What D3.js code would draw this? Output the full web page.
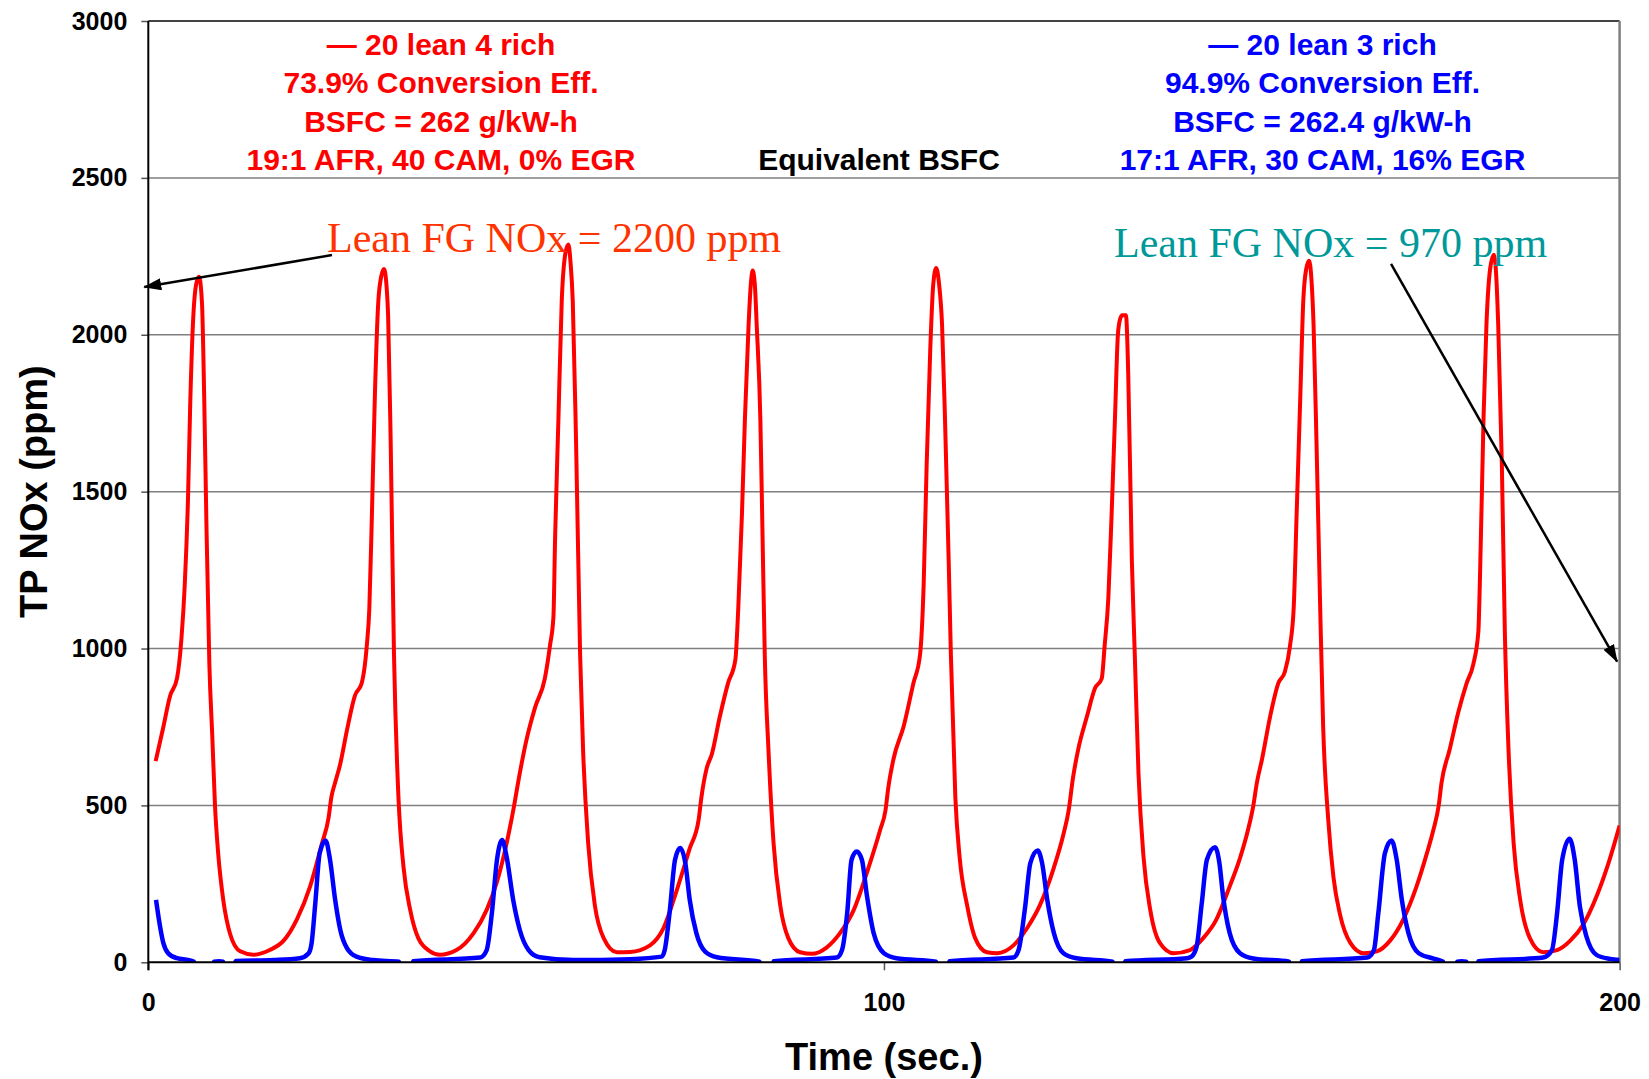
<!DOCTYPE html>
<html>
<head>
<meta charset="utf-8">
<script src="https://cdn.jsdelivr.net/npm/d3@7"></script>
<style>
  body { margin: 0; background: #fff; }
  svg { display: block; font-family: "Liberation Sans", Arial, sans-serif; }
</style>
</head>
<body>
<div class="chart"></div>
<script>
// [time (sec), TP NOx (ppm)]
var lean4rich = [
  [1.0, 641], [2.0, 745], [2.95, 848], [3.9, 905], [4.5, 1030], [4.95, 1200], [5.4, 1480],
  [5.7, 1780], [6.1, 2050], [6.5, 2160], [6.9, 2185], [7.3, 2100], [7.6, 1800], [7.9, 1400],
  [8.3, 950], [8.7, 720], [9.07, 498], [9.5, 347], [10.2, 197], [11.1, 92], [12.5, 35],
  [14.3, 24], [16.5, 39], [18.4, 69], [20.2, 137], [22.0, 242], [23.6, 378], [24.5, 460],
  [24.9, 528], [25.4, 573], [26.1, 633], [27.0, 739], [28.1, 851], [29.0, 889], [29.7, 1009],
  [30.05, 1130], [30.4, 1430], [30.8, 1806], [31.27, 2107], [31.7, 2190], [32.04, 2210],
  [32.4, 2150], [32.6, 2062], [32.95, 1656], [33.4, 979], [34.0, 528], [34.7, 302], [35.6, 167],
  [36.7, 77], [38.3, 35], [39.6, 24], [41.9, 39], [44.2, 92], [46.0, 167], [47.4, 257],
  [48.7, 378], [49.6, 483], [50.5, 603], [51.4, 708], [52.6, 814], [53.9, 904], [54.6, 1009],
  [55.07, 1100], [55.3, 1355], [55.75, 1731], [56.2, 2107], [56.7, 2260], [57.1, 2288],
  [57.4, 2230], [57.7, 2107], [58.15, 1656], [58.7, 979], [59.1, 678], [59.8, 378], [60.7, 182],
  [61.9, 77], [63.7, 32], [65.5, 33], [68.2, 54], [70.0, 107], [71.8, 227], [73.6, 363],
  [74.8, 453], [75.2, 528], [75.9, 618], [76.6, 663], [77.7, 784], [78.8, 889], [79.8, 964],
  [80.2, 1130], [80.7, 1430], [81.1, 1731], [81.6, 2032], [81.9, 2160], [82.15, 2205],
  [82.45, 2160], [82.7, 2032], [83.2, 1731], [83.5, 1355], [83.8, 979], [84.3, 678], [85.0, 378],
  [85.9, 182], [87.0, 77], [88.6, 32], [90.2, 27], [92.2, 47], [94.0, 92], [95.9, 167],
  [97.7, 287], [99.5, 423], [100.2, 483], [100.6, 558], [101.3, 648], [102.7, 754], [104.0, 889],
  [104.9, 979], [105.4, 1205], [105.8, 1581], [106.3, 1957], [106.7, 2160], [107.1, 2213],
  [107.5, 2160], [107.9, 2032], [108.3, 1731], [108.8, 1280], [109.1, 979], [109.7, 528],
  [110.3, 332], [111.3, 182], [112.4, 77], [114.0, 32], [115.4, 29], [117.6, 54], [119.4, 107],
  [121.2, 182], [123.1, 302], [124.4, 408], [125.1, 483], [125.7, 588], [126.4, 678], [127.6, 784],
  [128.7, 874], [129.6, 904], [130.0, 1009], [130.5, 1160], [130.95, 1430], [131.4, 1731],
  [131.8, 2000], [132.1, 2050], [132.4, 2062], [132.9, 2062], [133.2, 1882], [133.7, 1280],
  [134.1, 979], [134.6, 603], [135.3, 332], [136.2, 167], [137.5, 62], [139.4, 29], [141.6, 39],
  [143.4, 77], [145.2, 137], [147.0, 242], [148.4, 332], [149.5, 423], [150.2, 498], [150.7, 573],
  [151.4, 648], [152.5, 784], [153.6, 889], [154.5, 926], [155.2, 1009], [155.7, 1130],
  [156.1, 1430], [156.6, 1806], [157.0, 2107], [157.4, 2210], [157.8, 2236], [158.1, 2180],
  [158.4, 2032], [158.8, 1656], [159.3, 1130], [159.7, 754], [160.4, 453], [161.1, 272],
  [162.0, 152], [163.4, 62], [165.2, 29], [167.0, 35], [168.8, 69], [170.6, 137], [172.4, 242],
  [173.8, 347], [174.7, 423], [175.4, 498], [175.8, 573], [176.9, 678], [178.1, 799], [179.2, 889],
  [180.1, 949], [180.8, 1054], [181.0, 1205], [181.5, 1731], [181.9, 2032], [182.4, 2210],
  [182.9, 2255], [183.2, 2200], [183.5, 2032], [184.0, 1581], [184.4, 1054], [184.9, 678],
  [185.6, 378], [186.5, 197], [187.8, 77], [189.6, 32], [191.5, 39], [193.3, 69], [195.1, 122],
  [196.9, 212], [198.5, 317], [200.0, 436]
];

// dips below zero fall outside the plot area, which leaves the gaps in the blue trace
var lean3rich = [
  [1.05, 199], [1.6, 114], [2.05, 61], [2.7, 29], [3.9, 13], [5.5, 7], [6.2, 2], [6.5, -30],
  [8.6, -30], [8.9, 2], [9.6, 3], [10.2, 2], [10.5, -30], [11.6, -30], [11.9, 4], [17.0, 7],
  [20.6, 13], [21.8, 29], [22.2, 61], [22.7, 188], [23.3, 348], [24.1, 388], [24.7, 327],
  [25.4, 199], [26.1, 103], [27.0, 45], [28.3, 18], [30.6, 7], [34.1, 2], [34.4, -30],
  [35.7, -30], [36.0, 3], [45.1, 15], [46.0, 39], [46.7, 156], [47.4, 327], [48.1, 390],
  [48.7, 337], [49.6, 199], [50.5, 103], [51.7, 39], [53.2, 16], [57.8, 7], [65.5, 10],
  [69.8, 18], [70.2, 39], [70.9, 167], [71.6, 327], [72.3, 364], [73.0, 316], [73.6, 199],
  [74.5, 93], [75.7, 34], [77.3, 16], [83.1, 2], [83.4, -30], [84.7, -30], [85.0, 3],
  [93.6, 15], [94.3, 39], [95.0, 156], [95.6, 327], [96.3, 353], [97.0, 327], [97.7, 210],
  [98.6, 93], [100.0, 29], [101.7, 13], [107.1, 2], [107.4, -30], [108.6, -30], [108.9, 3],
  [117.6, 15], [118.3, 39], [119.2, 178], [119.9, 316], [120.9, 356], [121.5, 316], [122.2, 199],
  [123.1, 93], [124.4, 29], [126.2, 13], [131.1, 2], [131.4, -30], [132.5, -30], [132.8, 3],
  [141.2, 13], [141.8, 18], [142.5, 50], [143.2, 188], [143.9, 327], [145.0, 367], [145.6, 316],
  [146.1, 210], [147.0, 93], [148.4, 29], [150.2, 12], [155.1, 2], [155.4, -30], [156.5, -30],
  [156.8, 3], [165.7, 15], [166.6, 39], [167.2, 156], [168.1, 348], [169.0, 388], [169.7, 327],
  [170.4, 199], [171.3, 93], [172.7, 29], [174.7, 12], [176.0, 2], [176.3, -30], [177.6, -30],
  [177.9, 2], [178.5, 3], [179.2, 2], [179.5, -30], [180.5, -30], [180.8, 3], [189.6, 15],
  [190.8, 39], [191.5, 156], [192.2, 327], [193.2, 394], [193.9, 327], [194.6, 178], [195.5, 82],
  [196.9, 23], [198.7, 11], [200.0, 7]
];

var yTicks = [0, 500, 1000, 1500, 2000, 2500, 3000];
var xTicks = [0, 100, 200];

var redText = ["\u2014 20 lean 4 rich", "73.9% Conversion Eff.", "BSFC = 262 g/kW-h", "19:1 AFR, 40 CAM, 0% EGR"];
var blueText = ["\u2014 20 lean 3 rich", "94.9% Conversion Eff.", "BSFC = 262.4 g/kW-h", "17:1 AFR, 30 CAM, 16% EGR"];

var margin = {top: 21, right: 29.4, bottom: 116.7, left: 148.3},
  W = 1649, H = 1079,
  width = W - margin.left - margin.right,
  height = H - margin.top - margin.bottom;

var x = d3.scaleLinear().domain([0, 200]).range([0, width]),
  y = d3.scaleLinear().domain([0, 3000]).range([height, 0]);

var svg = d3.select(".chart")
  .append("svg")
  .attr("width", W)
  .attr("height", H);

var defs = svg.append("defs");
defs.append("clipPath").attr("id", "plotclip")
  .append("rect").attr("width", width).attr("height", height);
defs.append("marker")
  .attr("id", "arrowhead")
  .attr("viewBox", "0 0 18 12")
  .attr("refX", 17).attr("refY", 6)
  .attr("markerWidth", 18).attr("markerHeight", 12)
  .attr("markerUnits", "userSpaceOnUse")
  .attr("orient", "auto")
  .append("path").attr("d", "M0,0L18,6L0,12Z").attr("fill", "#000");

var g = svg.append("g")
  .attr("transform", "translate(" + margin.left + "," + margin.top + ")");

// horizontal grid
g.append("g")
  .selectAll("line")
  .data(yTicks.slice(1, -1))
  .enter().append("line")
    .attr("x1", 0).attr("x2", width)
    .attr("y1", function(d) { return y(d); })
    .attr("y2", function(d) { return y(d); })
    .attr("stroke", "#7f7f7f")
    .attr("stroke-width", 1.5);

// top and right frame
g.append("line").attr("x1", 0).attr("x2", width).attr("y1", 0).attr("y2", 0)
  .attr("stroke", "#444").attr("stroke-width", 2);
g.append("line").attr("x1", width).attr("x2", width).attr("y1", 0).attr("y2", height)
  .attr("stroke", "#808080").attr("stroke-width", 2.5);

// series
var line = d3.line()
  .x(function(d) { return x(d[0]); })
  .y(function(d) { return y(d[1]); })
  .curve(d3.curveMonotoneX);

var plot = g.append("g").attr("clip-path", "url(#plotclip)");
plot.append("path")
  .datum(lean4rich)
  .attr("fill", "none")
  .attr("stroke", "#ff0000")
  .attr("stroke-width", 4)
  .attr("stroke-linejoin", "round")
  .attr("d", line);
plot.append("path")
  .datum(lean3rich)
  .attr("fill", "none")
  .attr("stroke", "#0000ff")
  .attr("stroke-width", 4.5)
  .attr("stroke-linejoin", "round")
  .attr("d", line);

// axes
var yAxis = g.append("g")
  .call(d3.axisLeft(y).tickValues(yTicks).tickFormat(d3.format("d")).tickSize(7).tickPadding(14));
var xAxis = g.append("g")
  .attr("transform", "translate(0," + height + ")")
  .call(d3.axisBottom(x).tickValues(xTicks).tickFormat(d3.format("d")).tickSize(8).tickPadding(23));

[yAxis, xAxis].forEach(function(a) {
  a.select(".domain").remove();
  a.selectAll(".tick line").attr("stroke", "#555").attr("stroke-width", 1.5);
  a.selectAll(".tick text")
    .attr("fill", "#000")
    .style("font-family", "'Liberation Sans', Arial, sans-serif")
    .style("font-size", "25px")
    .style("font-weight", "bold");
});

g.append("line").attr("x1", 0).attr("x2", 0).attr("y1", 0).attr("y2", height + 8)
  .attr("stroke", "#000").attr("stroke-width", 2);
g.append("line").attr("x1", 0).attr("x2", width).attr("y1", height).attr("y2", height)
  .attr("stroke", "#000").attr("stroke-width", 2);

// axis titles
svg.append("text")
  .attr("transform", "translate(47," + (margin.top + height / 2) + ") rotate(-90)")
  .attr("text-anchor", "middle")
  .style("font-size", "38px")
  .style("font-weight", "bold")
  .text("TP NOx (ppm)");

svg.append("text")
  .attr("x", margin.left + width / 2)
  .attr("y", 1070)
  .attr("text-anchor", "middle")
  .style("font-size", "38px")
  .style("font-weight", "bold")
  .text("Time (sec.)");

// text blocks
function block(lines, cx, color) {
  g.selectAll(null)
    .data(lines)
    .enter().append("text")
      .attr("x", cx)
      .attr("y", function(d, i) { return 34 + i * 38.3; })
      .attr("text-anchor", "middle")
      .attr("fill", color)
      .style("font-size", "30px")
      .style("font-weight", "bold")
      .text(function(d) { return d; });
}
block(redText, 441 - margin.left, "#ff0000");
block(blueText, 1322.5 - margin.left, "#0000ff");

g.append("text")
  .attr("x", 879 - margin.left)
  .attr("y", 149)
  .attr("text-anchor", "middle")
  .attr("fill", "#000")
  .style("font-size", "30px")
  .style("font-weight", "bold")
  .text("Equivalent BSFC");

// annotations
g.append("text")
  .attr("x", 327 - margin.left)
  .attr("y", 231)
  .attr("fill", "#ff3300")
  .style("font-family", "'Liberation Serif', 'Times New Roman', serif")
  .style("font-size", "42px")
  .text("Lean FG NOx = 2200 ppm");

g.append("text")
  .attr("x", 1114 - margin.left)
  .attr("y", 236)
  .attr("fill", "#009999")
  .style("font-family", "'Liberation Serif', 'Times New Roman', serif")
  .style("font-size", "42px")
  .text("Lean FG NOx = 970 ppm");

g.append("line")
  .attr("x1", x(24.97)).attr("y1", y(2254))
  .attr("x2", x(-0.55)).attr("y2", y(2152))
  .attr("stroke", "#000").attr("stroke-width", 2.5)
  .attr("marker-end", "url(#arrowhead)");

g.append("line")
  .attr("x1", x(168.93)).attr("y1", y(2226))
  .attr("x2", x(199.66)).attr("y2", y(958))
  .attr("stroke", "#000").attr("stroke-width", 2.5)
  .attr("marker-end", "url(#arrowhead)");
</script>
</body>
</html>
